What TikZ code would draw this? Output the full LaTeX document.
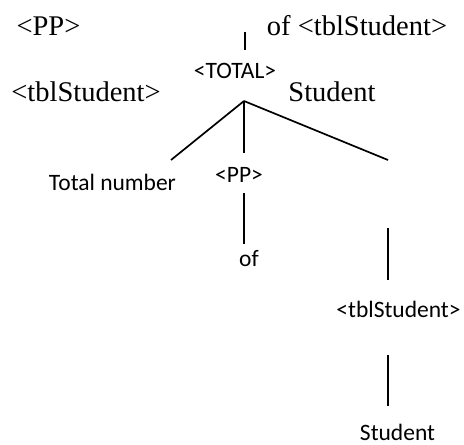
\documentclass[tikz,border=0pt]{standalone}
\usepackage{fontspec}
\setmainfont{Liberation Serif}
\newfontfamily\labelfont{Carlito}
\tikzset{
  big/.style={font=\fontsize{28.5}{30}\selectfont, inner sep=0pt, anchor=base},
  small/.style={font=\labelfont\fontsize{23.5}{26}\selectfont, inner sep=0pt, anchor=base},
  branch/.style={line width=1.7pt}
}
\begin{document}
\begin{tikzpicture}[x=1pt,y=-1pt]
    \useasboundingbox (0,0) rectangle (464,445);

    \node[big] (pp top) at (48.5,35) {<PP>};
    \node[big] (of top) at (357,35) {of <tblStudent>};
    \node[big] (tbl top) at (86,101) {<tblStudent>};
    \node[big] (student top) at (332,101) {Student};

    \node[small] (total) at (235,78) {<TOTAL>};
    \node[small] (number) at (112.5,190) {Total number};
    \node[small] (pp) at (239,182) {<PP>};
    \node[small] (of) at (249,266) {of};
    \node[small] (tbl) at (398.5,317) {<tblStudent>};
    \node[small] (student) at (397.5,440) {Student};

    \coordinate (mark a) at (245,32);
    \coordinate (mark b) at (245,50);
    \coordinate (root) at (244,101);
    \coordinate (left end) at (171,160);
    \coordinate (mid end) at (244,153);
    \coordinate (right end) at (388,160);
    \coordinate (of a) at (244,193);
    \coordinate (of b) at (244,244);
    \coordinate (tbl a) at (388,228);
    \coordinate (tbl b) at (388,280);
    \coordinate (student a) at (388,355);
    \coordinate (student b) at (388,406);

    \draw[branch] (mark a) -- (mark b);
    \draw[branch] (root) -- (left end);
    \draw[branch] (root) -- (mid end);
    \draw[branch] (root) -- (right end);
    \draw[branch] (of a) -- (of b);
    \draw[branch] (tbl a) -- (tbl b);
    \draw[branch] (student a) -- (student b);

\end{tikzpicture}
\end{document}
